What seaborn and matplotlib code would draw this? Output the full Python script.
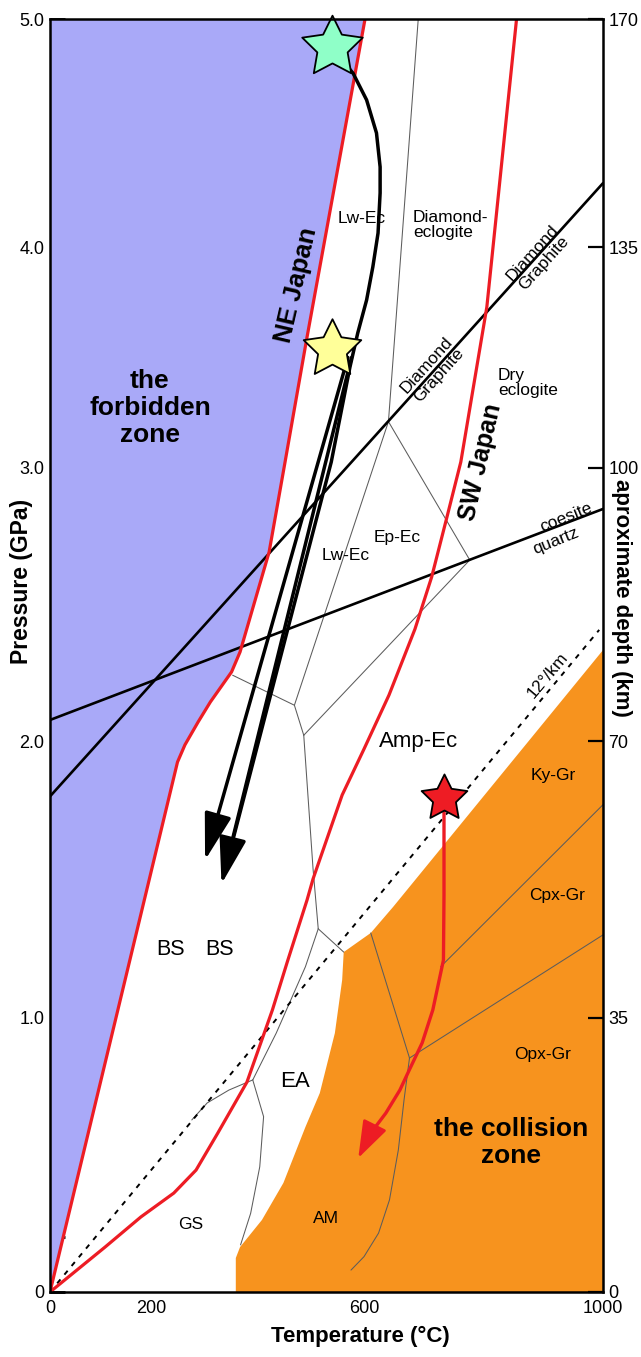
import numpy as np
import matplotlib
matplotlib.use("Agg")
import matplotlib.pyplot as plt
import seaborn as sns
from matplotlib.ticker import FixedLocator, FixedFormatter, NullLocator

# ------------------------------------------------------------------
# Data (temperature in degC, pressure in GPa)
# ------------------------------------------------------------------
NE_T = [0, 250, 264, 289, 312, 352, 368, 422, 451, 490, 602]
NE_P = [0, 1.924, 1.986, 2.07, 2.143, 2.253, 2.326, 2.692, 3.027, 3.579, 5.0]

SW_T = [0, 118, 182, 243, 285, 326, 381, 428, 455, 491, 502, 558, 600, 648, 698, 728, 754, 780, 827, 881]
SW_P = [0, 0.164, 0.274, 0.361, 0.445, 0.580, 0.766, 1.029, 1.202, 1.426, 1.502, 1.805, 1.971,
        2.168, 2.410, 2.601, 2.810, 3.027, 3.729, 5.0]

COLL_T = [360, 360, 368, 409, 448, 488, 515, 544, 558, 561, 613, 656, 1000, 1000]
COLL_P = [0, 0.124, 0.164, 0.263, 0.398, 0.602, 0.726, 0.945, 1.137, 1.238, 1.307, 1.401, 2.333, 0]

DIAMOND_T = [0, 1000]
DIAMOND_P = [1.8, 4.28]
COESITE_T = [0, 1000]
COESITE_P = [2.077, 2.85]
GRAD12_T = [0, 995]
GRAD12_P = [0, 2.407]

# thin phase boundaries
FACIES_LINES = [
    ([704, 647], [5.0, 3.21]),
    ([647, 468], [3.21, 2.131]),
    ([647, 796], [3.21, 2.663]),
    ([796, 485], [2.663, 2.021]),
    ([354, 468, 485], [2.241, 2.131, 2.021]),
    ([485, 502, 512], [2.021, 1.539, 1.322]),
    ([512, 561], [1.322, 1.238]),
    ([512, 488, 435, 392], [1.322, 1.185, 0.945, 0.774]),
    ([392, 412, 405, 388, 369], [0.774, 0.640, 0.457, 0.287, 0.172]),
    ([392, 347, 306, 277], [0.774, 0.737, 0.69, 0.628]),
    ([613, 687.5, 677, 666, 649, 628, 600, 575], [1.307, 0.854, 0.701, 0.518, 0.336, 0.215, 0.129, 0.080]),
    ([687.5, 1000], [0.854, 1.30]),
    ([744, 1000], [1.185, 1.77]),
]

# exhumation paths
GREEN_T = [565, 579, 605, 624, 631, 631, 627, 617, 605, 588, 573, 537, 347]
GREEN_P = [4.80, 4.762, 4.645, 4.5, 4.351, 4.237, 4.061, 3.910, 3.760, 3.611, 3.457, 3.027, 1.588]
ARROW1 = ((569, 3.5), (302, 1.570))
ARROW2 = ((576, 3.5), (333, 1.484))
RED_T = [750, 750, 750, 749, 730, 711, 687, 669, 642, 613]
RED_P = [1.795, 1.744, 1.444, 1.209, 1.029, 0.909, 0.810, 0.737, 0.653, 0.580]
RED_TIP = (589, 0.489)

STAR_T = [538, 538, 750]
STAR_P = [4.877, 3.540, 1.795]
STAR_COL = ["#8fffc8", "#ffff99", "#ee1c24"]
STAR_SIZE = [2100, 1900, 1200]

# axis ticks
X_TICKS = list(range(0, 1001, 100))
X_TICKLABELS = ["0", "", "200", "", "", "", "600", "", "", "", "1000"]
Y_TICKS = [0, 1, 2, 3, 4, 5]
Y_TICKLABELS = ["0", "1.0", "2.0", "3.0", "4.0", "5.0"]
DEPTH_LABELS = ["0", "35", "70", "100", "135", "170"]
Y_MINOR = [0.2, 0.4, 0.6, 0.8, 1.2, 1.4, 1.6, 1.8, 2.2, 2.4, 2.6, 2.8,
           3.25, 3.5, 3.75, 4.25, 4.5, 4.75]

# the printed axes are not evenly spaced: calibration of tick positions
X_KNOTS = [0, 100, 200, 300, 400, 500, 600, 700, 800, 900, 1000]
X_SPAN = [0, 45, 101, 154, 207, 262, 314, 366, 422, 477, 553]
Y_KNOTS = [0, 1, 2, 3, 4, 5]
Y_SPAN = [0, 274, 551, 824, 1045, 1273]


def piecewise(src, dst):
    src = np.asarray(src, float)
    dst = np.asarray(dst, float)

    def f(v):
        v = np.asarray(v, float)
        out = np.interp(v, src, dst)
        lo_s = (dst[1] - dst[0]) / (src[1] - src[0])
        hi_s = (dst[-1] - dst[-2]) / (src[-1] - src[-2])
        out = np.where(v < src[0], dst[0] + (v - src[0]) * lo_s, out)
        out = np.where(v > src[-1], dst[-1] + (v - src[-1]) * hi_s, out)
        return out
    return f


fx, fxi = piecewise(X_KNOTS, X_SPAN), piecewise(X_SPAN, X_KNOTS)
fy, fyi = piecewise(Y_KNOTS, Y_SPAN), piecewise(Y_SPAN, Y_KNOTS)

sns.set_theme(style="white")
plt.rcParams["font.family"] = ["Liberation Sans", "DejaVu Sans"]
plt.rcParams.update({"text.color": "black", "axes.labelcolor": "black",
                     "xtick.color": "black", "ytick.color": "black"})

W, H = 641, 1357
fig = plt.figure(figsize=(W / 100, H / 100), dpi=100)
ax = fig.add_axes([50 / W, 65 / H, 553 / W, 1273 / H])
ax.set_xscale("function", functions=(fx, fxi))
ax.set_yscale("function", functions=(fy, fyi))
ax.set_xlim(0, 1000)
ax.set_ylim(0, 5)

BLUE = "#a9a9f8"
ORANGE = "#f7931e"
RED = "#ed1c24"
THIN = "#5c5c5c"

# fills
ax.fill(list([0] + NE_T + [0]), list([0] + NE_P + [5]), color=BLUE, lw=0, zorder=1)
ax.fill(COLL_T, COLL_P, color=ORANGE, lw=0, zorder=1)

# thin facies boundaries
for t, p in FACIES_LINES:
    sns.lineplot(x=t, y=p, sort=False, estimator=None, ax=ax, color=THIN, lw=0.75, zorder=2)

# 12 deg/km geotherm
sns.lineplot(x=GRAD12_T, y=GRAD12_P, sort=False, estimator=None, ax=ax, color="black",
             lw=1.4, zorder=2, linestyle=(0, (2.6, 3.2)))

# diamond-graphite and coesite-quartz
for t, p in [(DIAMOND_T, DIAMOND_P), (COESITE_T, COESITE_P)]:
    sns.lineplot(x=t, y=p, sort=False, estimator=None, ax=ax, color="black", lw=1.9, zorder=3)

# subduction geotherms
for t, p in [(NE_T, NE_P), (SW_T, SW_P)]:
    sns.lineplot(x=t, y=p, sort=False, estimator=None, ax=ax, color=RED, lw=2.3, zorder=4)

# NE Japan exhumation paths
sns.lineplot(x=GREEN_T, y=GREEN_P, sort=False, estimator=None, ax=ax, color="black", lw=2.5, zorder=5)
for start, tip in (ARROW1, ARROW2):
    ax.annotate("", xy=tip, xytext=start,
                arrowprops=dict(arrowstyle="-|>,head_length=1.45,head_width=0.42",
                                mutation_scale=20, color="black", lw=2.5,
                                shrinkA=0, shrinkB=0), zorder=5)

# collision-zone path
sns.lineplot(x=RED_T, y=RED_P, sort=False, estimator=None, ax=ax, color=RED, lw=2.4, zorder=5)
ax.annotate("", xy=RED_TIP, xytext=(RED_T[-1], RED_P[-1]),
            arrowprops=dict(arrowstyle="-|>,head_length=1.15,head_width=0.4",
                            mutation_scale=20, color=RED, lw=2.0,
                            shrinkA=0, shrinkB=0), zorder=5)

# stars
for t, p, c, s in zip(STAR_T, STAR_P, STAR_COL, STAR_SIZE):
    ax.scatter([t], [p], marker=(5, 1, 0), s=s, c=c, edgecolors="black", linewidths=1.3,
               zorder=7, clip_on=False)

# labels in the diagram
LABELS = [
    ("Lw-Ec", 596, 4.127, 12.5, "normal", 0, "center"),
    ("Diamond-\neclogite", 694, 4.096, 12.5, "normal", 0, "left"),
    ("Diamond\nGraphite", 915, 3.95, 12.5, "normal", 48, "center"),
    ("Diamond\nGraphite", 730, 3.443, 12.5, "normal", 48, "center"),
    ("Dry\neclogite", 847, 3.385, 12.5, "normal", 0, "left"),
    ("Lw-Ec", 564, 2.681, 12.5, "normal", 0, "center"),
    ("Ep-Ec", 664, 2.747, 12.5, "normal", 0, "center"),
    ("coesite", 951, 2.82, 12.5, "normal", 22, "center"),
    ("quartz", 938, 2.733, 12.5, "normal", 22, "center"),
    ("12°/km", 927, 2.242, 12.5, "normal", 50, "center"),
    ("Amp-Ec", 705, 2.0, 16, "normal", 0, "center"),
    ("Ky-Gr", 935, 1.877, 12.5, "normal", 0, "center"),
    ("Cpx-Gr", 939, 1.444, 12.5, "normal", 0, "center"),
    ("BS", 237, 1.248, 15.5, "normal", 0, "center"),
    ("BS", 330, 1.248, 15.5, "normal", 0, "center"),
    ("EA", 469, 0.768, 16, "normal", 0, "center"),
    ("Opx-Gr", 921, 0.865, 12.5, "normal", 0, "center"),
    ("GS", 275, 0.245, 12.5, "normal", 0, "center"),
    ("AM", 526, 0.269, 12.5, "normal", 0, "center"),
    ("the collision\nzone", 871, 0.547, 19, "bold", 0, "center"),
    ("the\nforbidden\nzone", 198, 3.27, 19, "bold", 0, "center"),
    ("NE Japan", 471, 3.828, 18.5, "bold", 77, "center"),
    ("SW Japan", 815, 3.027, 18, "bold", 77, "center"),
]
for txt, t, p, fs, fw, rot, ha in LABELS:
    ax.text(t, p, txt, fontsize=fs, fontweight=fw, rotation=rot, ha=ha, va="center",
            rotation_mode="anchor", linespacing=1.05 if fs < 14 else 1.15, zorder=8,
            color="black")

# axes styling
ax.xaxis.set_major_locator(FixedLocator(X_TICKS))
ax.xaxis.set_major_formatter(FixedFormatter(X_TICKLABELS))
ax.xaxis.set_minor_locator(NullLocator())
ax.yaxis.set_major_locator(FixedLocator(Y_TICKS))
ax.yaxis.set_major_formatter(FixedFormatter(Y_TICKLABELS))
ax.yaxis.set_minor_locator(FixedLocator(Y_MINOR))
ax.tick_params(axis="x", which="major", direction="in", length=9.5, width=1.2,
               labelsize=13, pad=6, color="black", labelcolor="black")
ax.tick_params(axis="y", which="both", direction="in", length=11, width=2.0,
               labelsize=13, pad=4, color="black", left=True, labelcolor="black")
for sp in ax.spines.values():
    sp.set_linewidth(1.8)
    sp.set_color("black")
    sp.set_zorder(9)

ax2 = ax.twinx()
ax2.set_yscale("function", functions=(fy, fyi))
ax2.set_ylim(0, 5)
ax2.yaxis.set_major_locator(FixedLocator(Y_TICKS))
ax2.yaxis.set_major_formatter(FixedFormatter(DEPTH_LABELS))
ax2.yaxis.set_minor_locator(NullLocator())
ax2.tick_params(axis="y", which="major", direction="in", length=11, width=1.6,
                labelsize=13, pad=4, color="black", right=True, labelcolor="black")
for sp in ax2.spines.values():
    sp.set_visible(False)

ax.text(-0.051, 0.558, "Pressure (GPa)", transform=ax.transAxes, rotation=90,
        ha="center", va="center", fontsize=16.5, fontweight="bold", color="black")
ax.text(0.5606, -0.0353, "Temperature (°C)", transform=ax.transAxes,
        ha="center", va="center", fontsize=16, fontweight="bold", color="black")
ax.text(1.034, 0.5455, "aproximate depth (km)", transform=ax.transAxes, rotation=270,
        ha="center", va="center", fontsize=16, fontweight="bold", color="black")
ax.set_xlabel("")
ax.set_ylabel("")

fig.savefig("out.png", dpi=100, facecolor="white")
